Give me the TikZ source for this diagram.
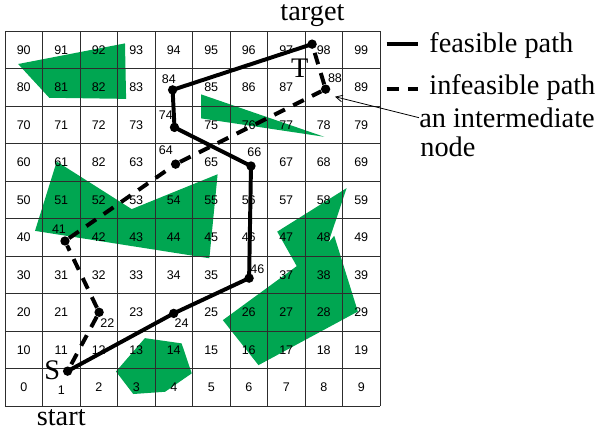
\documentclass[tikz,border=0pt]{standalone}
\usepackage{fontspec}
\setmainfont{Liberation Serif}
\setsansfont{Liberation Sans}
\usetikzlibrary{arrows.meta}
\definecolor{Obstacle}{RGB}{0, 166, 81}
\definecolor{Grid}{RGB}{45, 45, 45}

\begin{document}
\begin{tikzpicture}[
    cellnum/.style={font=\sffamily\fontsize{9.5}{11}\selectfont, inner sep=0pt},
    bigtext/.style={font=\fontsize{21.5}{24}\selectfont, inner sep=0pt},
    waypoint/.style={circle, fill=black, inner sep=0pt, minimum size=0.25cm},
    feasible/.style={line width=3pt, line join=round},
    infeasible/.style={line width=3pt, dash pattern=on 9pt off 7pt}
]
    %% Background
    \useasboundingbox (-0.133,-0.773) rectangle (15.947,10.827);

    %% Obstacles
    \fill[Obstacle] (0.35,9.12) -- (3.2,9.67) -- (3.23,8.19) -- (1.18,8.22) -- cycle;
    \fill[Obstacle] (5.23,8.31) -- (5.23,7.67) -- (8.51,7.18) -- cycle;
    \fill[Obstacle] (1.38,6.52) -- (3.38,5.25) -- (5.67,6.18) -- (5.45,3.94) -- (0.8,4.67) -- cycle;
    \fill[Obstacle] (9.11,5.81) -- (7.26,4.65) -- (7.78,3.73) -- (5.81,2.29) -- (6.76,1.09)
        -- (9.41,2.52) -- (8.78,4.54) -- (8.62,4.35) -- cycle;
    \fill[Obstacle] (2.96,0.92) -- (3.73,1.81) -- (4.71,1.67) -- (4.98,0.87) -- (4.27,0.38)
        -- (3.42,0.32) -- cycle;

    %% Grid
    \draw[Grid, line width=0.6pt] (0,0) grid (10,10);

    %% Cell numbers
    \foreach \n in {0,...,99}{
        \pgfmathtruncatemacro{\col}{mod(\n,10)}
        \pgfmathtruncatemacro{\row}{div(\n,10)}
        \pgfmathtruncatemacro{\moved}{(\n==1)||(\n==22)||(\n==24)||(\n==36)||(\n==41)||(\n==62)||(\n==64)||(\n==66)||(\n==74)||(\n==84)||(\n==88)}
        \ifnum\moved=0
            \node[cellnum] (c\n) at (\col+0.5,\row+0.5) {\n};
        \fi
    }
    \node[cellnum] (c1)  at (1.5,0.42) {1};
    \node[cellnum] (c22) at (2.73,2.22) {22};
    \node[cellnum] (c24) at (4.71,2.2) {24};
    \node[cellnum] (c36) at (6.73,3.65) {46};
    \node[cellnum] (c41) at (1.44,4.71) {41};
    \node[cellnum] (c62) at (2.5,6.5) {82};
    \node[cellnum] (c64) at (4.29,6.81) {64};
    \node[cellnum] (c66) at (6.65,6.78) {66};
    \node[cellnum] (c74) at (4.29,7.76) {74};
    \node[cellnum] (c84) at (4.37,8.72) {84};
    \node[cellnum] (c88) at (8.8,8.75) {88};

    %% Way points
    \node[waypoint] (s)   at (1.67,0.93) {};
    \node[waypoint] (p24) at (4.5,2.47) {};
    \node[waypoint] (p36) at (6.51,3.41) {};
    \node[waypoint] (p66) at (6.56,6.4) {};
    \node[waypoint] (p74) at (4.52,7.43) {};
    \node[waypoint] (p84) at (4.47,8.43) {};
    \node[waypoint] (t)   at (8.19,9.65) {};
    \node[waypoint] (p22) at (2.51,2.5) {};
    \node[waypoint] (p41) at (1.6,4.4) {};
    \node[waypoint] (p64) at (4.55,6.45) {};
    \node[waypoint] (p88) at (8.55,8.45) {};

    %% Paths
    \draw[feasible] (s.center) -- (p24.center) -- (p36.center) -- (p66.center)
        -- (p74.center) -- (p84.center) -- (t.center);
    \draw[infeasible] (p22) -- (s);
    \draw[infeasible] (p22) -- (p41) -- (p64) -- (p88) -- (t);

    \node[bigtext, anchor=base] (slabel) at (1.26,0.71) {S};
    \node[bigtext, anchor=base] (tlabel) at (7.86,8.765) {T};
    \node[bigtext, anchor=base] (startlabel) at (1.5,-0.525) {start};
    \node[bigtext, anchor=base] (targetlabel) at (8.2,10.27) {target};

    %% Legend
    \draw[feasible] (10.18,9.645) -- (11.01,9.645);
    \node[bigtext, anchor=base west] (feaslabel) at (11.31,9.43) {feasible path};
    \draw[infeasible] (10.18,8.45) -- (11.01,8.45);
    \node[bigtext, anchor=base west] (infeaslabel) at (11.31,8.32) {infeasible path};
    \node[bigtext, anchor=base west] (interlabel) at (11.04,7.43) {an intermediate};
    \node[bigtext, anchor=base west] (nodelabel) at (11.07,6.65) {node};

    \coordinate (tip) at (8.8,8.248);
    \draw[line width=0.6pt, -{Straight Barb[length=5pt,width=5pt]}] (interlabel.west) -- (tip);

\end{tikzpicture}
\end{document}
